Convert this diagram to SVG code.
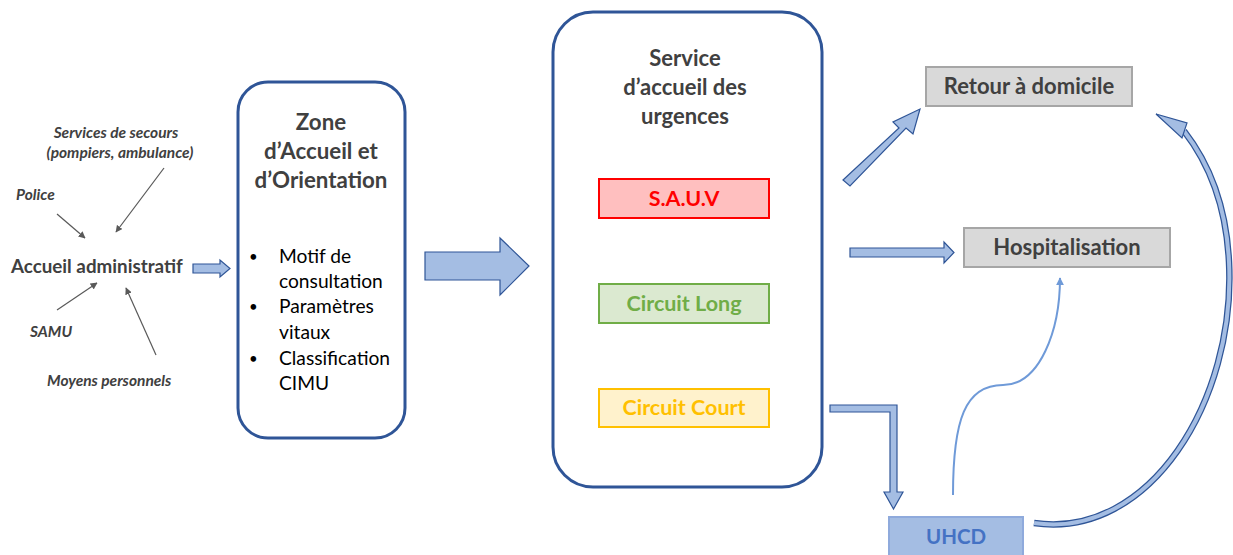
<svg xmlns="http://www.w3.org/2000/svg" width="1233" height="555" viewBox="0 0 1233 555">
  <defs>
    <style>
      text { font-family: Lato, "Open Sans", "Liberation Sans", sans-serif; }
      .src { font-size: 15.5px; font-weight: bold; font-style: italic; fill: #404040; }
      .title { font-size: 22.3px; font-weight: bold; fill: #404040; text-anchor: middle; }
      .item { font-size: 19.2px; fill: #000; }
      .bullet { font-size: 15px; fill: #000; }
      .zone { fill: #fff; stroke: #2f5597; stroke-width: 3; }
      .block { fill: #a4bde3; stroke: #2f5597; stroke-width: 1.2; stroke-linejoin: miter; }
      .thin { stroke: #595959; stroke-width: 1.2; fill: none; marker-end: url(#ah); }
      .outcome { fill: #d9d9d9; stroke: #a6a6a6; stroke-width: 2; }
      .outtext { font-size: 22px; font-weight: bold; fill: #404040; text-anchor: middle; }
      .circ { font-size: 21.5px; font-weight: bold; text-anchor: middle; }
    </style>
    <marker id="ah" viewBox="0 0 10 10" refX="9" refY="5" markerWidth="7" markerHeight="7" orient="auto" markerUnits="userSpaceOnUse">
      <path d="M0,0 L10,5 L0,10 z" fill="#595959"/>
    </marker>
    <marker id="ahb" viewBox="0 0 10 10" refX="9" refY="5" markerWidth="8" markerHeight="8" orient="auto" markerUnits="userSpaceOnUse">
      <path d="M0,0 L10,5 L0,10 z" fill="#6f9ad8"/>
    </marker>
  </defs>

  <!-- arrival sources -->
  <g id="sources">
    <text class="src" x="116" y="138" text-anchor="middle">Services de secours</text>
    <text class="src" x="120" y="158" text-anchor="middle">(pompiers, ambulance)</text>
    <text class="src" x="16" y="200">Police</text>
    <text class="src" x="30" y="337">SAMU</text>
    <text class="src" x="47" y="386">Moyens personnels</text>
  </g>

  <g id="accueil-admin">
    <text x="11" y="273" style="font-size:18.8px;font-weight:bold;fill:#404040">Accueil administratif</text>
  </g>

  <!-- Zone d'Accueil et d'Orientation -->
  <g id="zone-ao">
    <rect class="zone" x="238" y="82" width="167" height="356" rx="30"/>
    <text class="title" x="321" y="130">Zone</text>
    <text class="title" x="321" y="159">d’Accueil et</text>
    <text class="title" x="321" y="188">d’Orientation</text>
    <text class="bullet" x="249" y="262">•</text>
    <text class="item" x="279" y="263">Motif de</text>
    <text class="item" x="279" y="288">consultation</text>
    <text class="bullet" x="249" y="312">•</text>
    <text class="item" x="279" y="313">Paramètres</text>
    <text class="item" x="279" y="339">vitaux</text>
    <text class="bullet" x="249" y="364">•</text>
    <text class="item" x="279" y="365">Classification</text>
    <text class="item" x="279" y="390">CIMU</text>
  </g>

  <!-- Service d'accueil des urgences -->
  <g id="sau">
    <rect class="zone" x="553" y="12" width="269" height="475" rx="40"/>
    <text class="title" x="685" y="66" style="font-size:22px">Service</text>
    <text class="title" x="685" y="95" style="font-size:22px">d’accueil des</text>
    <text class="title" x="685" y="124" style="font-size:22px">urgences</text>
  </g>

  <g id="sauv">
    <rect x="599" y="179" width="170" height="39" fill="#ffbfbf" stroke="#ff0000" stroke-width="2"/>
    <text class="circ" x="684" y="206" fill="#ff0000">S.A.U.V</text>
  </g>
  <g id="circuit-long">
    <rect x="599" y="284" width="170" height="39" fill="#dbe9d0" stroke="#70ad47" stroke-width="2"/>
    <text class="circ" x="684" y="311" fill="#70ad47">Circuit Long</text>
  </g>
  <g id="circuit-court">
    <rect x="599" y="389" width="170" height="38" fill="#fff2cc" stroke="#ffc000" stroke-width="2"/>
    <text class="circ" x="684" y="415" fill="#ffc000">Circuit Court</text>
  </g>

  <!-- outcomes -->
  <g id="retour">
    <rect class="outcome" x="926" y="67" width="206" height="39"/>
    <text class="outtext" x="1029" y="94">Retour à domicile</text>
  </g>
  <g id="hospitalisation">
    <rect class="outcome" x="964" y="228" width="206" height="39"/>
    <text class="outtext" x="1067" y="255">Hospitalisation</text>
  </g>
  <g id="uhcd">
    <rect x="889" y="517" width="134" height="45" fill="#a4bde3" stroke="#8faadc" stroke-width="2"/>
    <text x="956" y="544" style="font-size:20.5px;font-weight:bold;fill:#4472c4;text-anchor:middle">UHCD</text>
  </g>

  <!-- connectors -->
  <g id="connectors">
    <line class="thin" x1="57" y1="214" x2="85" y2="238"/>
    <line class="thin" x1="164" y1="168" x2="116" y2="232"/>
    <line class="thin" x1="57" y1="310" x2="97" y2="283"/>
    <line class="thin" x1="156" y1="355" x2="126" y2="288"/>

    <!-- admin to zone -->
    <polygon class="block" points="193,264 220,264 220,260 230,268.5 220,277 220,273 193,273"/>
    <!-- zone to service -->
    <polygon class="block" points="425,252 500,252 500,238 529,266 500,295 500,280 425,280"/>
    <!-- to retour a domicile -->
    <polygon class="block" points="843,180 899,128 893,122 920,109 913,134 906,128 850,186"/>
    <!-- to hospitalisation -->
    <polygon class="block" points="850,248 944,248 944,242 954,252.5 944,263 944,257 850,257"/>
    <!-- circuit court to UHCD -->
    <polygon class="block" points="830,405 897,405 897,492 903,492 893.5,509 884,492 890,492 890,412 830,412"/>
    <!-- UHCD to hospitalisation -->
    <path d="M953,495 C953,420 965,385 1003,385 C1040,385 1060,330 1060,278" fill="none" stroke="#6f9ad8" stroke-width="2" marker-end="url(#ahb)"/>
    <!-- UHCD back home -->
    <path d="M1034,523 C1150,540 1236,400 1229,262 C1226,200 1205,158 1184,131" fill="none" stroke="#2f5597" stroke-width="6.5"/>
    <path d="M1034,523 C1150,540 1236,400 1229,262 C1226,200 1205,158 1184,131" fill="none" stroke="#a4bde3" stroke-width="4"/>
    <polygon class="block" points="1156,114 1187,123 1182,138"/>
  </g>
</svg>
